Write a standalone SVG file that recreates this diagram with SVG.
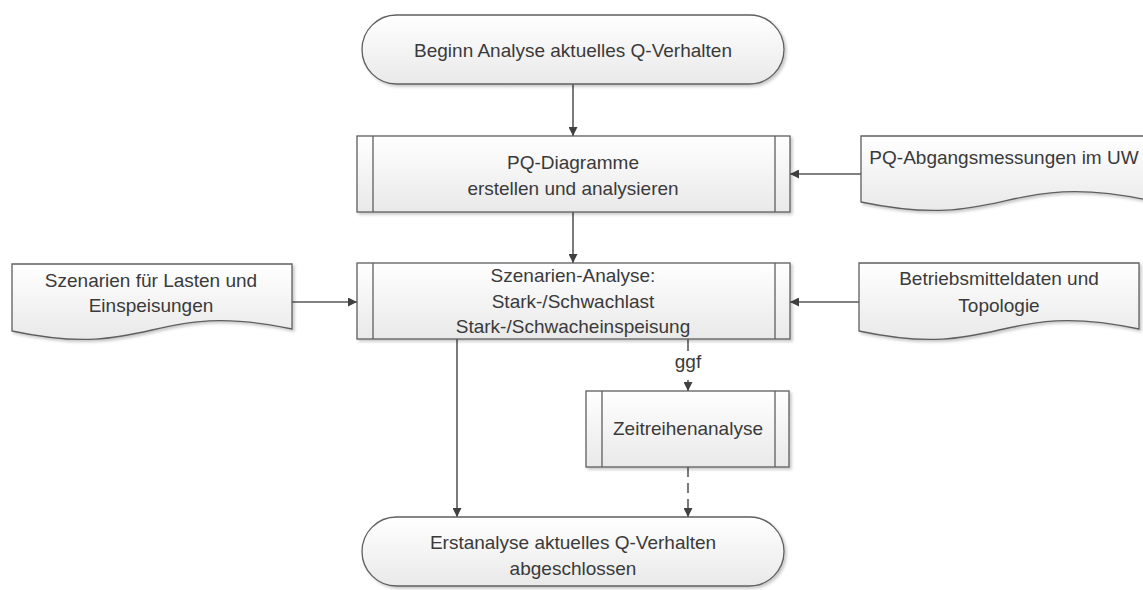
<svg xmlns="http://www.w3.org/2000/svg" width="1143" height="590" viewBox="0 0 1143 590">
<defs>
<linearGradient id="fillg" x1="0" y1="0" x2="0" y2="1">
<stop offset="0" stop-color="#ffffff"/>
<stop offset="1" stop-color="#e9e9e9"/>
</linearGradient>
<filter id="sh" x="-5%" y="-10%" width="115%" height="130%">
<feDropShadow dx="2" dy="2" stdDeviation="1.5" flood-color="#000" flood-opacity="0.22"/>
</filter>
<marker id="arr" viewBox="0 0 10 10" refX="10" refY="5" markerWidth="9" markerHeight="9" markerUnits="userSpaceOnUse" orient="auto">
<path d="M0,0 L10,5 L0,10 z" fill="#404040"/>
</marker>
</defs>
<style>
.shape{fill:url(#fillg);stroke:#5f5f5f;stroke-width:1.3;filter:url(#sh)}
.inner{stroke:#5f5f5f;stroke-width:1.3;fill:none}
.t{font-family:"Liberation Sans",Arial,sans-serif;font-size:19px;fill:#3a3a3a;text-anchor:middle}
.c{stroke:#595959;stroke-width:1.6;fill:none;marker-end:url(#arr)}
.d{stroke-dasharray:10,6}
</style>
<rect width="1143" height="590" fill="#ffffff"/>
<g id="connectors">
<line class="c" x1="573" y1="84" x2="573" y2="136"/>
<line class="c" x1="861" y1="174" x2="790" y2="174"/>
<line class="c" x1="573" y1="212" x2="573" y2="263"/>
<line class="c" x1="292" y1="302" x2="357" y2="302"/>
<line class="c" x1="859" y1="302" x2="790" y2="302"/>
<line class="c" x1="457" y1="339" x2="457" y2="517"/>
<line x1="688" y1="339" x2="688" y2="351" stroke="#595959" stroke-width="1.6"/>
<text class="t" x="688" y="368">ggf</text>
<line class="c" x1="688" y1="380" x2="688" y2="391"/>
<line class="c d" x1="688" y1="467" x2="688" y2="517"/>
</g>
<g id="start">
<rect class="shape" x="362" y="15" width="422" height="69" rx="34.5"/>
<text class="t" x="573" y="57">Beginn Analyse aktuelles Q-Verhalten</text>
</g>
<g id="pq-diagramme">
<rect class="shape" x="357" y="136" width="433" height="76"/>
<line class="inner" x1="373" y1="136" x2="373" y2="212"/>
<line class="inner" x1="775" y1="136" x2="775" y2="212"/>
<text class="t" x="573" y="169">PQ-Diagramme</text>
<text class="t" x="573" y="195">erstellen und analysieren</text>
</g>
<g id="pq-messungen">
<path class="shape" d="M861,136 H1148 V200 C1004,170 1004,232 861,202 Z"/>
<text class="t" x="1004" y="164">PQ-Abgangsmessungen im UW</text>
</g>
<g id="szenarien-lasten">
<path class="shape" d="M12,264 H292 V329 C152,299 152,361 12,331 Z"/>
<text class="t" x="151" y="287">Szenarien für Lasten und</text>
<text class="t" x="151" y="312">Einspeisungen</text>
</g>
<g id="szenarien-analyse">
<rect class="shape" x="357" y="263" width="433" height="76"/>
<line class="inner" x1="373" y1="263" x2="373" y2="339"/>
<line class="inner" x1="775" y1="263" x2="775" y2="339"/>
<text class="t" x="573" y="282">Szenarien-Analyse:</text>
<text class="t" x="573" y="308">Stark-/Schwachlast</text>
<text class="t" x="573" y="333">Stark-/Schwacheinspeisung</text>
</g>
<g id="betriebsmittel">
<path class="shape" d="M859,263 H1139 V329 C999,299 999,361 859,331 Z"/>
<text class="t" x="999" y="285">Betriebsmitteldaten und</text>
<text class="t" x="999" y="312">Topologie</text>
</g>
<g id="zeitreihen">
<rect class="shape" x="586" y="391" width="203" height="76"/>
<line class="inner" x1="602" y1="391" x2="602" y2="467"/>
<line class="inner" x1="775" y1="391" x2="775" y2="467"/>
<text class="t" x="688" y="435">Zeitreihenanalyse</text>
</g>
<g id="end">
<rect class="shape" x="362" y="517" width="422" height="69" rx="34.5"/>
<text class="t" x="573" y="549">Erstanalyse aktuelles Q-Verhalten</text>
<text class="t" x="573" y="575">abgeschlossen</text>
</g>
</svg>
